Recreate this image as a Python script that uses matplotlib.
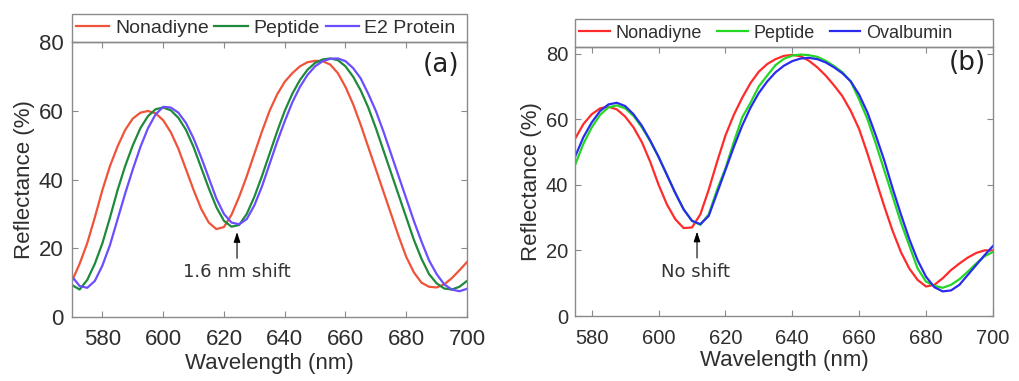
import numpy as np
import matplotlib.pyplot as plt
from matplotlib.patches import Rectangle
from matplotlib.lines import Line2D

plt.rcParams['font.family'] = ['Liberation Sans', 'DejaVu Sans']

# ---- panel (a) data, reflectance (%) read every 2.5 nm ----
wl_a = np.arange(570, 700.1, 2.5)
nonadiyne_a = [10.5, 15.5, 21.5, 29, 37, 44, 49.7, 54.5, 57.8, 59.5, 60, 59.3, 57.3, 53.8,
               49, 43, 37, 31.5, 27.5, 25.6, 26.2, 29.8, 35, 41, 47.5, 54, 60, 64.8, 68.5,
               71, 73, 74.2, 74.6, 74.5, 73.5, 71, 67, 62, 56, 49.5, 43, 36.5, 30, 23.5,
               17.5, 13, 10, 8.8, 8.6, 9.5, 11.3, 13.6, 16]
peptide_a = [9.3, 8.0, 10.8, 15.5, 21.5, 29, 37, 44, 50, 55, 58.5, 60.5, 61, 60.2,
             58, 54.5, 49.5, 43.5, 37.5, 32, 28, 26.3, 26.8, 30, 35, 41, 47.5, 54, 60,
             65, 69, 72, 74, 75, 75.3, 74.8, 73, 70, 66, 61, 55, 48.5, 42, 35.5,
             29, 22.5, 17, 12.5, 9.8, 8.3, 8.0, 8.8, 10.5]
protein_a = [11.8, 9.0, 8.5, 10.5, 15, 21, 28.5, 36, 43, 49.5, 55, 59, 61.2, 61,
             59.5, 56.5, 52, 46.5, 40.5, 34.5, 30, 27.5, 27, 28.5, 32.5, 38, 44.5, 51, 57,
             62.5, 67, 70.5, 73, 74.5, 75.2, 75.3, 74.5, 72.5, 69.5, 65, 60, 54, 47.5, 41,
             34.5, 28, 22, 16.5, 12.5, 9.5, 8, 7.5, 8.2]

# ---- panel (b) data ----
wl_b = np.arange(575, 700.1, 2.5)
nonadiyne_b = [54, 58.5, 61.5, 63.3, 63.8, 63, 60.8, 57.5, 53, 47, 40, 34, 29.5, 26.8,
               27, 31, 38.5, 47, 55, 61.3, 66.5, 71, 74.5, 76.8, 78.3, 79.3, 79.6, 79.2,
               77.8, 75.8, 73.3, 70.3, 67, 62.5, 57, 49.5, 41.5, 33.5, 26, 19.5, 14.5,
               11, 9, 9.5, 11.5, 14, 16, 17.8, 19.2, 20, 20]
peptide_b = [46, 52.5, 57.5, 61.3, 63.6, 64.2, 63.3, 61, 57.5, 53.3, 48.5, 43, 37.5, 32.5,
             29, 27.8, 31, 38.5, 45, 53, 60.5, 65, 70, 73.3, 76.5, 78.4, 79.4, 79.7,
             79.5, 79, 77.8, 76.2, 74.3, 71.5, 66, 60, 52.5, 44.5, 36.5, 28.5, 21.5,
             14.5, 10.5, 9.2, 8.6, 9.5, 11.2, 13.5, 16, 18.2, 19.5]
ovalbumin_b = [48.5, 54.5, 59, 62.5, 64.5, 65, 64, 61.5, 58, 53.5, 48.5, 43, 37.5, 32.5,
               29, 28, 30.5, 37.5, 44.5, 51.5, 58, 63.5, 68, 71.5, 74.3, 76.3, 77.7, 78.5,
               78.7, 78.3, 77.3, 75.8, 74, 71.5, 67.5, 62, 55, 47.5, 39, 31, 23.5,
               17, 12, 8.8, 7.5, 7.8, 9.5, 12.5, 15.5, 18.5, 21.3]

labels_a = ['Nonadiyne', 'Peptide', 'E2 Protein']
labels_b = ['Nonadiyne', 'Peptide', 'Ovalbumin']
colors_a = ['#f0533a', '#1f8a3a', '#6b4eff']
colors_b = ['#ff2b2b', '#22d822', '#2b2bf0']

axis_grey = '#8a8a8a'
text_col = '#2e2e2e'

fig = plt.figure(figsize=(10.19, 3.81), dpi=100)
ax1 = fig.add_axes([0.0707, 0.168, 0.3876, 0.721])
ax2 = fig.add_axes([0.5643, 0.1706, 0.410, 0.706])


def style_axes(ax, tick_fs, lab_fs, xpad, ypad, xlabpad):
    for sp in ax.spines.values():
        sp.set_color(axis_grey)
        sp.set_linewidth(1.0)
    ax.tick_params(direction='in', top=True, right=True, length=4, width=0.8,
                   color=axis_grey, labelsize=tick_fs, labelcolor=text_col)
    ax.tick_params(axis='x', pad=xpad)
    ax.tick_params(axis='y', pad=ypad)
    ax.set_xlabel('Wavelength (nm)', fontsize=lab_fs, color=text_col, labelpad=xlabpad)
    ax.set_ylabel('Reflectance (%)', fontsize=lab_fs, color=text_col, labelpad=3)


def legend_box(ax, h, labels, colors, fs, hl, cs, x0):
    ax.add_patch(Rectangle((0, 1), 1, h, transform=ax.transAxes, facecolor='white',
                           edgecolor=axis_grey, lw=1.0, clip_on=False))
    handles = [Line2D([], [], color=c, lw=1.6) for c in colors]
    ax.legend(handles, labels, ncol=3, loc='center left', bbox_to_anchor=(x0, 1 + h / 2),
              frameon=False, fontsize=fs, handlelength=hl, handletextpad=0.3,
              columnspacing=cs, borderaxespad=0, borderpad=0, labelcolor=text_col)


# panel (a)
for y, c in zip([nonadiyne_a, peptide_a, protein_a], colors_a):
    ax1.plot(wl_a, y, color=c, lw=1.6)
ax1.set_xlim(570, 700)
ax1.set_ylim(0, 80)
ax1.set_xticks([580, 600, 620, 640, 660, 680, 700])
ax1.set_yticks([0, 20, 40, 60, 80])
style_axes(ax1, 16, 16, 9, 6, 2)
legend_box(ax1, 0.103, labels_a, colors_a, 14, 1.7, 0.3, 0.01)
ax1.annotate('', xy=(624.3, 24.7), xytext=(624.3, 17.1),
             arrowprops=dict(arrowstyle='-|>,head_length=0.6,head_width=0.2',
                             color='black', lw=0.8, shrinkA=0, shrinkB=0))
ax1.text(624.3, 13, '1.6 nm shift', family='DejaVu Sans', fontsize=13,
         color='#333333', ha='center', va='center')
ax1.text(691.3, 73.3, '(a)', family='DejaVu Sans', fontsize=19,
         color='#222222', ha='center', va='center')

# panel (b)
for y, c in zip([nonadiyne_b, peptide_b, ovalbumin_b], colors_b):
    ax2.plot(wl_b, y, color=c, lw=1.6)
ax2.set_xlim(575, 700)
ax2.set_ylim(0, 82)
ax2.set_xticks([580, 600, 620, 640, 660, 680, 700])
ax2.set_yticks([0, 20, 40, 60, 80])
style_axes(ax2, 14.5, 16, 9, 5, 2)
legend_box(ax2, 0.104, labels_b, colors_b, 13, 1.7, 0.85, 0.01)
ax2.annotate('', xy=(611.5, 25.7), xytext=(611.5, 17.7),
             arrowprops=dict(arrowstyle='-|>,head_length=0.6,head_width=0.2',
                             color='black', lw=0.8, shrinkA=0, shrinkB=0))
ax2.text(610.9, 13.5, 'No shift', family='DejaVu Sans', fontsize=13,
         color='#333333', ha='center', va='center')
ax2.text(692.5, 77, '(b)', family='DejaVu Sans', fontsize=19,
         color='#222222', ha='center', va='center')

fig.savefig('out.png', dpi=100)
